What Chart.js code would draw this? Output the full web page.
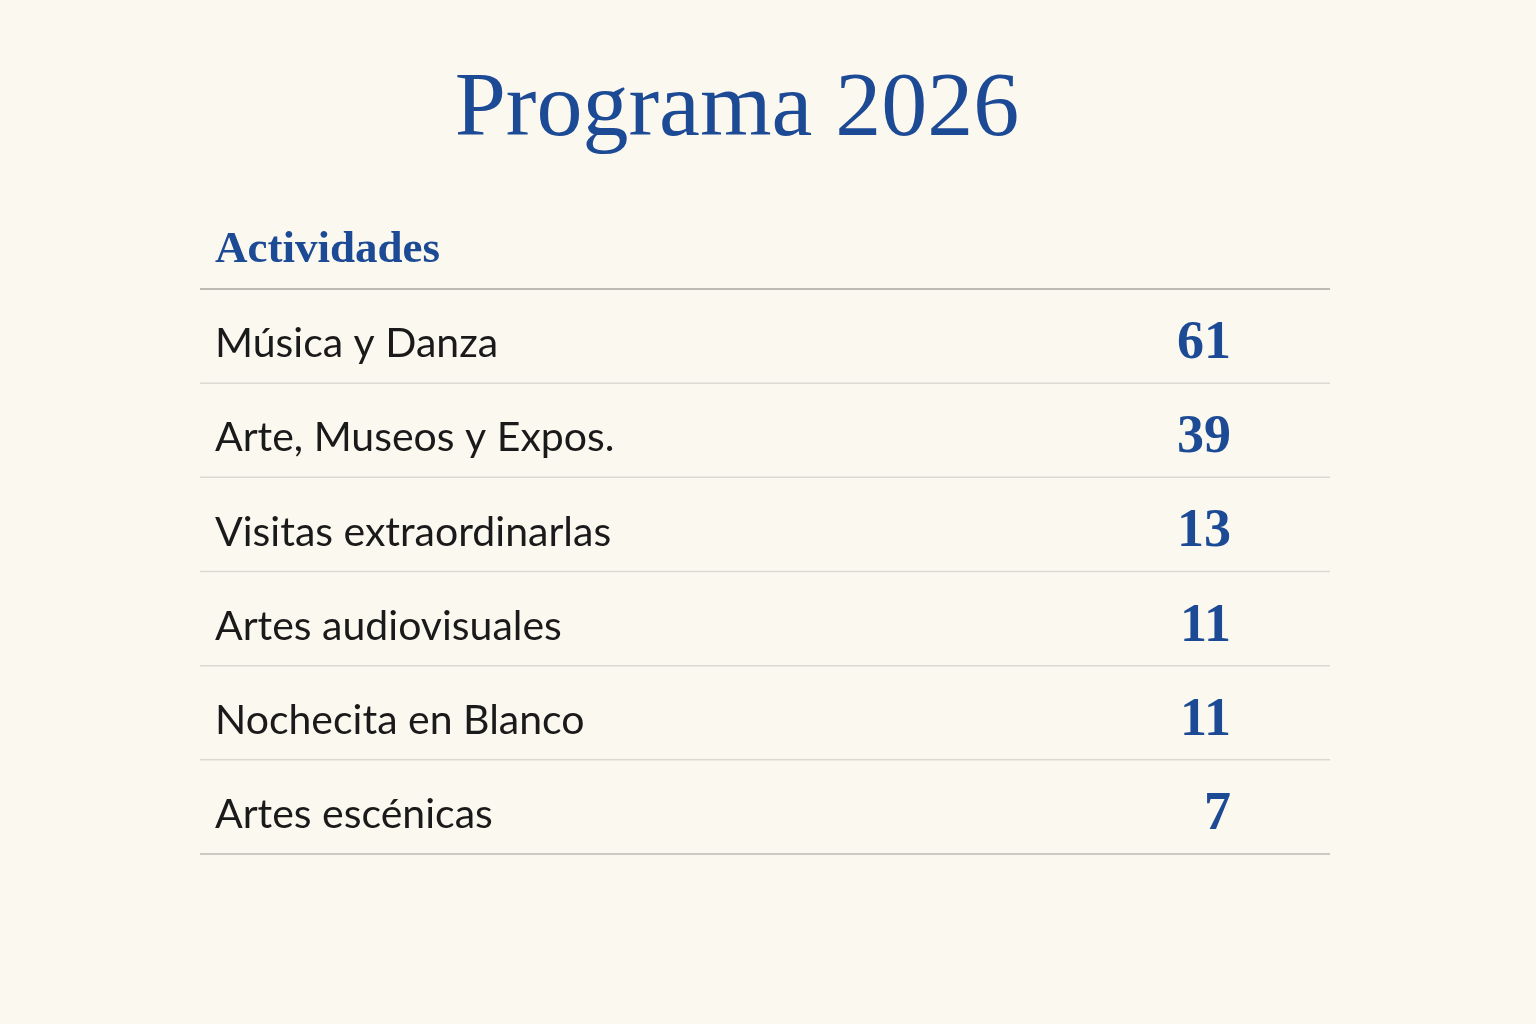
<!DOCTYPE html>
<html>
<head>
<meta charset="utf-8">
<script src="https://cdn.jsdelivr.net/npm/chart.js@4"></script>
<style>
  html, body { margin: 0; padding: 0; background: #fbf8f0; }
  #wrap { width: 1536px; height: 1024px; position: relative; }
</style>
</head>
<body>
<div id="wrap"><canvas id="tableChart"></canvas></div>
<script>
// Data
const titleText = 'Programa 2026';
const headerText = 'Actividades';
const categories = ['Música y Danza', 'Arte, Museos y Expos.', 'Visitas extraordinarlas', 'Artes audiovisuales', 'Nochecita en Blanco', 'Artes escénicas'];
const counts = [61, 39, 13, 11, 11, 7];

const BLUE = '#1d4a94';

// draws title, header, row text, numbers and rules from the y scale
const tablePlugin = {
    id: 'tablePlugin',
    afterDraw(chart) {
        const ctx = chart.ctx;
        const y = chart.scales.y;
        const area = chart.chartArea;
        ctx.save();

        // title
        ctx.fillStyle = BLUE;
        ctx.font = '92px "Liberation Serif", serif';
        ctx.textAlign = 'center';
        ctx.textBaseline = 'alphabetic';
        ctx.fillText(titleText, 737, 135);

        // header
        ctx.font = 'bold 45px "Liberation Serif", serif';
        ctx.textAlign = 'left';
        ctx.fillText(headerText, 215, 262);

        const half = (y.getPixelForValue(1) - y.getPixelForValue(0)) / 2;

        // top rule
        ctx.strokeStyle = '#bdbab3';
        ctx.lineWidth = 2;
        ctx.beginPath();
        ctx.moveTo(area.left, y.getPixelForValue(0) - half);
        ctx.lineTo(area.right, y.getPixelForValue(0) - half);
        ctx.stroke();

        categories.forEach((cat, i) => {
            const py = y.getPixelForValue(i);
            ctx.fillStyle = '#1a1a1a';
            ctx.font = '41px Lato, "Noto Sans", sans-serif';
            ctx.textAlign = 'left';
            ctx.textBaseline = 'middle';
            ctx.fillText(cat, 215, py + 8);

            ctx.fillStyle = BLUE;
            ctx.font = 'bold 54px "Liberation Serif", serif';
            ctx.textAlign = 'right';
            ctx.fillText(String(counts[i]), 1231, py + 8);

            ctx.strokeStyle = i === categories.length - 1 ? '#bdbab3' : '#dcd9d2';
            ctx.lineWidth = 1.5;
            ctx.beginPath();
            ctx.moveTo(area.left, py + half);
            ctx.lineTo(area.right, py + half);
            ctx.stroke();
        });
        ctx.restore();
    }
};

new Chart(document.getElementById('tableChart'), {
    type: 'bar',
    data: {
        labels: categories,
        datasets: [{
            data: counts,
            backgroundColor: 'rgba(0,0,0,0)',
            borderWidth: 0
        }]
    },
    options: {
        indexAxis: 'y',
        responsive: true,
        maintainAspectRatio: false,
        animation: false,
        layout: { padding: { left: 200, right: 206, top: 289, bottom: 170 } },
        plugins: {
            legend: { display: false },
            tooltip: { enabled: false },
            title: { display: false }
        },
        scales: {
            x: { display: false, min: 0, max: 100 },
            y: { display: false }
        }
    },
    plugins: [tablePlugin]
});
</script>
</body>
</html>
